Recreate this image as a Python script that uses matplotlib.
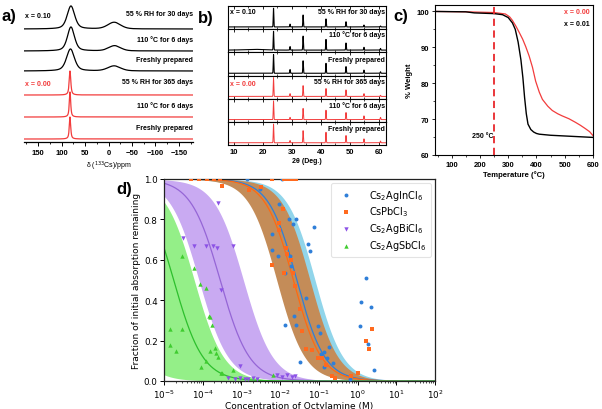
import numpy as np
import matplotlib
matplotlib.use('Agg')
import matplotlib.pyplot as plt
from matplotlib.ticker import MultipleLocator, FixedLocator

# ================= DATA =================
# (a) 133Cs NMR peaks
nmr_labels = ['55 % RH for 30 days', '110 °C for 6 days', 'Freshly prepared',
              '55 % RH for 365 days', '110 °C for 6 days', 'Freshly prepared']
nmr_main_center = [80, 80, 81, 82, 82, 82]          # ppm
nmr_main_fwhm = [19, 18, 20, 4.0, 3.5, 3.5]         # ppm
nmr_side_center = [-12, -13, -12, 0, 0, 0]          # ppm
nmr_side_fwhm = [32, 30, 32, 1, 1, 1]               # ppm
nmr_side_height = [0.29, 0.22, 0.23, 0.0, 0.0, 0.0]  # relative to main peak

# (b) XRD reflections (2theta, deg) and relative intensities per pattern
xrd_labels = nmr_labels
xrd_pos = [23.7, 29.4, 33.9, 41.8, 48.7, 54.9, 60.6]
xrd_int = [
    [1.0, 0.15, 0.64, 0.43, 0.28, 0.10, 0.05],
    [1.0, 0.19, 0.75, 0.57, 0.38, 0.15, 0.09],
    [1.0, 0.20, 0.67, 0.53, 0.36, 0.17, 0.08],
    [1.0, 0.15, 0.58, 0.42, 0.35, 0.15, 0.06],
    [1.0, 0.12, 0.60, 0.50, 0.38, 0.20, 0.12],
    [1.0, 0.12, 0.65, 0.56, 0.39, 0.21, 0.09],
]

# (c) TGA curves
tga_T_x000 = [41, 150, 250, 290, 305, 315, 328, 340, 351, 362, 374, 386, 397, 410, 421,
              440, 456, 475, 491, 515, 538, 555, 572, 588, 600]
tga_w_x000 = [100.0, 99.9, 99.7, 99.3, 98.5, 97.5, 95.8, 94.0, 92.3, 90.2, 87.6, 84.4, 80.6,
              77.5, 75.5, 73.6, 72.4, 71.5, 70.9, 70.1, 69.1, 68.3, 67.4, 66.5, 65.4]
tga_T_x001 = [41, 150, 180, 250, 280, 300, 315, 325, 335, 345, 352, 358, 364, 370, 380,
              390, 400, 410, 450, 500, 550, 600]
tga_w_x001 = [100.0, 99.9, 99.6, 99.4, 99.1, 98.3, 96.8, 95.0, 91.5, 86.5, 81.5, 76.0, 71.5,
              68.6, 67.1, 66.4, 66.0, 65.8, 65.5, 65.3, 65.1, 64.9]

# (d) degradation vs octylamine concentration: log10(conc / M), fraction remaining
in_logc = [-2.85, -1.95, -2.52, -2.21, -2.21, -2.03, -2.05, -1.88, -1.77, -1.75, -1.71, -1.66,
           -1.60, -1.88, -1.65, -1.60, -1.49, -1.34, -1.28, -1.22, -1.12, -1.02, -0.97, -0.94,
           -0.88, -0.88, -0.75, -0.80, -0.63, -0.19, 0.06, 0.10, 0.21, 0.28, 0.34, 0.43]
in_frac = [1.0, 1.0, 0.95, 0.73, 0.647, 0.878, 0.617, 0.537, 0.803, 0.617, 0.567, 0.775,
           0.80, 0.275, 0.32, 0.275, 0.095, 0.41, 0.678, 0.645, 0.763, 0.272, 0.24, 0.135,
           0.142, 0.067, 0.167, 0.112, 0.088, 0.008, 0.27, 0.393, 0.512, 0.183, 0.367, 0.055]

pb_logc = [-4.3, -4.1, -3.9, -3.7, -3.55, -3.51, -2.80, -2.49, -2.22, -1.9, -1.8, -1.7, -1.6,
           -2.21, -2.03, -2.03, -1.92, -1.91, -1.84, -1.82, -1.73, -1.68, -1.61, -1.50, -1.43,
           -1.33, -1.19, -1.02, -0.91, -0.81, -0.65, -0.59, -0.18, 0.0, 0.21, 0.29, 0.36]
pb_frac = [1.0, 1.0, 1.0, 1.0, 1.0, 0.963, 0.947, 0.958, 1.0, 1.0, 1.0, 1.0, 1.0,
           0.575, 0.75, 0.78, 0.853, 0.533, 0.66, 0.628, 0.60, 0.533, 0.47, 0.355, 0.248,
           0.157, 0.153, 0.112, 0.112, 0.078, 0.027, 0.017, 0.025, 0.038, 0.20, 0.158, 0.257]

bi_logc = [-4.52, -4.22, -3.91, -3.74, -3.62, -3.21, -3.61, -3.54, -3.04, -3.34, -3.17,
           -3.04, -2.90, -2.82, -2.69, -2.61, -2.08, -1.96, -1.83, -1.70, -1.61]
bi_frac = [0.71, 0.67, 0.67, 0.67, 0.66, 0.67, 0.88, 0.45, 0.073, 0.013, 0.01,
           0.015, 0.012, 0.01, 0.015, 0.012, 0.03, 0.022, 0.028, 0.02, 0.025]

sb_logc = [-4.85, -4.85, -4.68, -4.53, -4.53, -4.22, -4.06, -4.05, -3.92, -3.91, -3.84,
           -3.80, -3.75, -3.82, -3.67, -3.65, -3.60, -3.54, -3.50, -3.22, -2.18]
sb_frac = [0.258, 0.178, 0.147, 0.258, 0.62, 0.56, 0.48, 0.07, 0.46, 0.10, 0.32,
           0.317, 0.275, 0.15, 0.163, 0.137, 0.12, 0.042, 0.038, 0.053, 0.032]

# fitted dose-response curves: log10 midpoint, lower/upper band midpoints, slope
fit_names = ['Cs$_2$AgInCl$_6$', 'CsPbCl$_3$', 'Cs$_2$AgBiCl$_6$', 'Cs$_2$AgSbCl$_6$']
fit_mid = [-1.57, -1.66, -3.55, -4.75]
fit_lo = [-2.05, -2.09, -4.10, -6.30]
fit_hi = [-1.10, -1.23, -2.95, -4.22]
fit_slope = [1.2, 1.2, 1.15, 1.15]

# ================= STYLE / LAYOUT =================
W, H = 602, 410
fig = plt.figure(figsize=(W / 100, H / 100), dpi=100)
fig.patch.set_facecolor('white')
ARIAL = 'Liberation Sans'
RED = '#f23c3c'


def ax_px(l, t, r, b):
    return fig.add_axes([l / W, 1 - b / H, (r - l) / W, (b - t) / H])


def ftext(x, y, s, ha='left', size=5, color='k', weight='bold', family=ARIAL, **kw):
    fig.text(x / W, 1 - y / H, s, ha=ha, va='center', fontsize=size, color=color,
             fontweight=weight, family=family, **kw)


def pv(x, c, fwhm, h, eta=0.5):
    g = np.exp(-4 * np.log(2) * ((x - c) / fwhm) ** 2)
    lo = 1 / (1 + 4 * ((x - c) / fwhm) ** 2)
    return h * (eta * lo + (1 - eta) * g)


# ---------------- (a) ----------------
ax_a = ax_px(24, 3, 193, 143)
ppm = np.linspace(-180, 180, 3000)
a_off = [113, 91, 71, 47, 25, 3]
a_scale = [23, 24, 22, 24, 25, 22]
for i in range(6):
    col = 'k' if i < 3 else RED
    eta = 0.5 if i < 3 else 0.75
    y = pv(ppm, nmr_main_center[i], nmr_main_fwhm[i], 1.0, eta)
    y = y + pv(ppm, nmr_side_center[i], nmr_side_fwhm[i], nmr_side_height[i], 0.3)
    ax_a.plot(ppm, a_off[i] + a_scale[i] * y, color=col, lw=0.9)
ax_a.set_xlim(180, -180)
ax_a.set_ylim(0, 140)
for s in ['top', 'left', 'right']:
    ax_a.spines[s].set_visible(False)
ax_a.spines['bottom'].set_linewidth(0.9)
ax_a.set_yticks([])
ax_a.xaxis.set_major_locator(FixedLocator([150, 100, 50, 0, -50, -100, -150]))
ax_a.xaxis.set_minor_locator(MultipleLocator(25))
ax_a.tick_params(axis='x', which='major', length=3, width=0.7, pad=2, labelsize=5.5)
ax_a.tick_params(axis='x', which='minor', length=1.6, width=0.6)
for lab in ax_a.get_xticklabels():
    lab.set_fontweight('bold'); lab.set_family(ARIAL)
ax_a.set_xlabel(r'δ ($^{133}$Cs)/ppm', fontsize=5, family=ARIAL, labelpad=2)
ax_a.set_facecolor('none')

ftext(2, 17, 'a)', size=12)
ftext(25, 17, 'x = 0.10')
ftext(25, 84, 'x = 0.00', color=RED)
for lab, yy in zip(nmr_labels, [14, 40, 61, 83, 106, 128]):
    ftext(193, yy, lab, ha='right')

# ---------------- (b) ----------------
tth = np.linspace(8, 62.5, 4000)
bt, bb = 7, 146
bh = (bb - bt) / 6
for i in range(6):
    ax = ax_px(228, bt + i * bh, 386, bt + (i + 1) * bh)
    col = 'k' if i < 3 else RED
    y = np.zeros_like(tth)
    for p, h in zip(xrd_pos, xrd_int[i]):
        y = y + h * np.exp(-0.5 * ((tth - p) / 0.1) ** 2)
    if i == 1:
        y = y + pv(tth, 17, 8, 0.04, 0.0)
    ax.plot(tth, y, color=col, lw=0.8 if i < 3 else 0.7)
    ax.set_xlim(8, 62.5)
    ax.set_ylim(-0.12, 1.12)
    ax.set_yticks([])
    ax.xaxis.set_major_locator(MultipleLocator(10))
    ax.xaxis.set_minor_locator(MultipleLocator(5))
    ax.tick_params(axis='x', which='major', direction='in', top=True, bottom=True,
                   length=2.5, width=0.6, labelbottom=(i == 5), labelsize=5.5, pad=2)
    ax.tick_params(axis='x', which='minor', direction='in', top=True, bottom=True,
                   length=1.3, width=0.5)
    for s in ax.spines.values():
        s.set_linewidth(0.8)
    if i == 5:
        for lab in ax.get_xticklabels():
            lab.set_fontweight('bold'); lab.set_family(ARIAL)
        ax.set_xlabel('2θ (Deg.)', fontsize=5, fontweight='bold', family=ARIAL, labelpad=1.5)

ftext(198, 18, 'b)', size=12)
ftext(230, 12.5, 'x = 0.10')
ftext(230, 85, 'x = 0.00', color=RED)
for lab, yy in zip(xrd_labels, [12, 35, 60, 82.5, 106.5, 129.5]):
    ftext(385, yy, lab, ha='right')

# ---------------- (c) ----------------
ax_c = ax_px(435, 6, 593, 156)
ax_c.plot(tga_T_x000, tga_w_x000, color=RED, lw=0.9)
ax_c.plot(tga_T_x001, tga_w_x001, color='k', lw=1.0)
ax_c.axvline(250, color='#e8262b', lw=1.3, ls=(0, (4, 2.5)))
ax_c.set_xlim(41, 600)
ax_c.set_ylim(60, 101.8)
ax_c.xaxis.set_major_locator(MultipleLocator(100))
ax_c.xaxis.set_minor_locator(MultipleLocator(50))
ax_c.yaxis.set_major_locator(MultipleLocator(10))
ax_c.yaxis.set_minor_locator(MultipleLocator(5))
ax_c.tick_params(which='major', length=2.5, width=0.6, labelsize=5.5, pad=1.5)
ax_c.tick_params(which='minor', length=1.4, width=0.5)
for lab in ax_c.get_xticklabels() + ax_c.get_yticklabels():
    lab.set_fontweight('bold'); lab.set_family(ARIAL)
for s in ax_c.spines.values():
    s.set_linewidth(0.8)
ax_c.set_xlabel('Temperature (°C)', fontsize=5.5, fontweight='bold', family=ARIAL, labelpad=2)
ax_c.set_ylabel('% Weight', fontsize=5.5, fontweight='bold', family=ARIAL, labelpad=3)
ax_c.text(248, 65.3, '250 °C', ha='right', va='center', fontsize=5, fontweight='bold',
          family=ARIAL)

ftext(393, 17, 'c)', size=12)
ftext(590, 13, 'x = 0.00', ha='right', color=RED)
ftext(590, 25, 'x = 0.01', ha='right')

# ---------------- (d) ----------------
ax_d = ax_px(164, 180, 435, 382)
ax_d.set_xscale('log')
xx = np.logspace(-5, 2, 600)


def hill(x, logc, n):
    return 1.0 / (1.0 + (x / 10.0 ** logc) ** n)


band_cols = ['#91d5ea', '#c48c58', '#c9aaf2', '#94ef88']
line_cols = ['#2f7fd8', '#ff6a10', '#9566d6', '#2dbf2d']
pt_cols = ['#2f7fd8', '#ff6a1e', '#8c52e6', '#40cc30']
markers = ['o', 's', 'v', '^']
sizes = [8, 8, 10, 10]

for k in [0, 1, 2, 3]:
    ax_d.fill_between(xx, hill(xx, fit_lo[k], fit_slope[k]), hill(xx, fit_hi[k], fit_slope[k]),
                      color=band_cols[k], lw=0, zorder=1)
for k in [0, 1, 2, 3]:
    ax_d.plot(xx, hill(xx, fit_mid[k], fit_slope[k]), color=line_cols[k], lw=0.9, zorder=2)

pts = [(in_logc, in_frac), (pb_logc, pb_frac), (bi_logc, bi_frac), (sb_logc, sb_frac)]
for k, (lc, fr) in enumerate(pts):
    ax_d.scatter(10.0 ** np.array(lc), fr, s=sizes[k], marker=markers[k], color=pt_cols[k],
                 lw=0, zorder=3, label=fit_names[k])

ax_d.set_xlim(1e-5, 1e2)
ax_d.set_ylim(0, 1)
ax_d.yaxis.set_major_locator(MultipleLocator(0.2))
ax_d.tick_params(which='major', labelsize=6.3, length=3, width=0.7, pad=1.5)
ax_d.tick_params(which='minor', length=1.6, width=0.5)
for s in ax_d.spines.values():
    s.set_linewidth(0.9)
    s.set_color('#222222')
ax_d.set_xlabel('Concentration of Octylamine (M)', fontsize=6.5, labelpad=1)
ax_d.set_ylabel('Fraction of initial absorption remaining', fontsize=6.5, labelpad=2)
leg = ax_d.legend(loc='upper right', fontsize=7, scatterpoints=1, markerscale=1.0,
                  frameon=True, fancybox=True, borderpad=0.45, labelspacing=0.3,
                  handletextpad=1.4, borderaxespad=0.45)
leg.get_frame().set_edgecolor('#dddddd')
leg.get_frame().set_linewidth(0.8)

ftext(116, 190, 'd)', size=12)

fig.savefig('out.png', dpi=100, facecolor='white')
